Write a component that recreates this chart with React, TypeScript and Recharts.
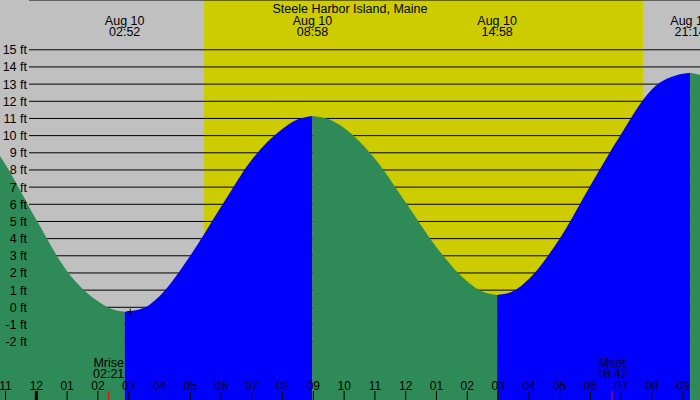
import {
    ComposedChart,
    Area,
    XAxis,
    YAxis,
    CartesianGrid,
    ReferenceLine,
    ReferenceDot,
    Customized,
} from "recharts";

const TITLE = "Steele Harbor Island, Maine";
const DATE_LABEL = "Aug 10";

// hours counted from Aug 10 00:00
const TIDE_HOURS = [-3.4, -3, -2, -1, 0, 1, 2, 2.4, 2.87, 3.5, 4, 5, 6, 7, 8, 8.5, 8.97, 9.5, 10, 11, 12, 13, 14, 14.5, 14.97, 15.5, 16, 17, 18, 19, 20, 21, 21.24, 22, 23];
const TIDE_FEET = [12.3, 12.2, 10.8, 8.3, 5.1, 2.1, 0.35, -0.07, -0.26, -0.03, 0.65, 3.0, 5.85, 8.6, 10.4, 10.95, 11.15, 10.95, 10.45, 8.65, 6.1, 3.5, 1.5, 0.9, 0.72, 0.95, 1.65, 4.0, 7.1, 10.1, 12.7, 13.6, 13.66, 13.2, 11.4];

// high / low turning points, the fill switches colour at each one
const EXTREME_HOURS = [-3.4, 2.87, 8.97, 14.97, 21.24];
const LABELED_EXTREMES = [2.87, 8.97, 14.97, 21.24];
const LABELED_TIMES = ["02:52", "08:58", "14:58", "21:14"];

const SUNRISE = 5.45;
const SUNSET = 19.71;

const MOON_HOURS = [2.35, 18.7];
const MOON_NAMES = ["Mrise", "Mset"];
const MOON_TIMES = ["02:21", "18:42"];

const MARK_HOUR = 3.05;
const MARK_FEET = -0.25;

const HOUR_TICKS = [-1, 0, 1, 2, 3, 4, 5, 6, 7, 8, 9, 10, 11, 12, 13, 14, 15, 16, 17, 18, 19, 20, 21];
const HOUR_LABELS = ["11", "12", "01", "02", "03", "04", "05", "06", "07", "08", "09", "10", "11", "12", "01", "02", "03", "04", "05", "06", "07", "08", "09"];
const FEET_TICKS = [-2, -1, 0, 1, 2, 3, 4, 5, 6, 7, 8, 9, 10, 11, 12, 13, 14, 15];

const X_MIN = -1.18;
const X_MAX = 21.56;
const Y_MIN = -5.4;
const Y_MAX = 17.9;

const W = 700;
const H = 400;
const FONT = "'Liberation Sans', Arial, sans-serif";
const NIGHT = "#c0c0c0";
const DAY = "#cccc00";
const EBB = "#2e8b57";
const FLOOD = "#0000ff";
const GRID_START = 29;

const segKey = (k: number) => `s${k}`;

const data = TIDE_HOURS.map((t, i) => {
    const row: Record<string, number> = { t };
    EXTREME_HOURS.forEach((start, k) => {
        const end = k + 1 < EXTREME_HOURS.length ? EXTREME_HOURS[k + 1] : Infinity;
        if (t >= start && t <= end) row[segKey(k)] = TIDE_FEET[i];
    });
    return row;
});

const GridLine = (props: any) => (
    <line
        key={props.key ?? props.y1}
        x1={props.x1 + GRID_START}
        x2={props.x2}
        y1={props.y1}
        y2={props.y2}
        stroke="#000"
        strokeWidth={1}
    />
);

// no vertical lines, only the day / night stripes between sunrise and sunset
const NoLine = (props: any) => <g key={props.key ?? props.x1} />;

const FeetTick = ({ y, payload }: any) => (
    <text x={27} y={y} dy={4.5} textAnchor="end" fontSize={12.5} fontFamily={FONT} fill="#000">
        {payload.value} ft
    </text>
);

const HourTick = ({ x, payload }: any) => {
    const i = HOUR_TICKS.indexOf(payload.value);
    const midnight = payload.value === 0;
    return (
        <g>
            <line x1={x} x2={x} y1={H - 9} y2={H} stroke="#000" strokeWidth={midnight ? 3 : 1} />
            <text x={x} y={H - 10.5} textAnchor="middle" fontSize={12} fontFamily={FONT} fill="#000">
                {HOUR_LABELS[i]}
            </text>
        </g>
    );
};

const TideLabel = ({ viewBox, time }: any) => (
    <g fontSize={12.5} fontFamily={FONT} fill="#000" textAnchor="middle">
        <text x={viewBox.x} y={24.5}>{DATE_LABEL}</text>
        <text x={viewBox.x} y={36}>{time}</text>
    </g>
);

const MoonLabel = ({ viewBox, name, time }: any) => (
    <g fontSize={12.5} fontFamily={FONT} fill="#000" textAnchor="middle">
        <text x={viewBox.x} y={H - 33.5}>{name}</text>
        <text x={viewBox.x} y={H - 22}>{time}</text>
        <line x1={viewBox.x} x2={viewBox.x} y1={H - 9} y2={H} stroke="#ff0000" strokeWidth={1} />
    </g>
);

const Plus = ({ cx, cy }: any) => (
    <g stroke="#000" strokeWidth={1}>
        <line x1={cx - 3} x2={cx + 3} y1={cy} y2={cy} />
        <line x1={cx} x2={cx} y1={cy - 3} y2={cy + 4} />
    </g>
);

const Title = () => (
    <text x={W / 2} y={12.5} textAnchor="middle" fontSize={12.5} fontFamily={FONT} fill="#000">
        {TITLE}
    </text>
);

export default function App() {
    return (
        <div style={{ position: "absolute", left: 0, top: 0, width: W, height: H, background: NIGHT }}>
            <ComposedChart width={W} height={H} data={data} margin={{ top: 0, right: 0, bottom: 0, left: 0 }}>
                <CartesianGrid
                    horizontal={GridLine}
                    vertical={NoLine}
                    verticalValues={[SUNRISE, SUNSET]}
                    verticalFill={[NIGHT, DAY, NIGHT]}
                    fillOpacity={1}
                />
                {EXTREME_HOURS.map((_, k) => (
                    <Area
                        key={k}
                        dataKey={segKey(k)}
                        type="monotone"
                        baseValue={Y_MIN}
                        stroke="none"
                        fill={k % 2 === 0 ? EBB : FLOOD}
                        fillOpacity={1}
                        dot={false}
                        activeDot={false}
                        isAnimationActive={false}
                    />
                ))}
                <XAxis
                    type="number"
                    dataKey="t"
                    domain={[X_MIN, X_MAX]}
                    allowDataOverflow
                    ticks={HOUR_TICKS}
                    interval={0}
                    mirror
                    height={30}
                    axisLine={false}
                    tickLine={false}
                    tick={<HourTick />}
                />
                <YAxis
                    type="number"
                    domain={[Y_MIN, Y_MAX]}
                    allowDataOverflow
                    ticks={FEET_TICKS}
                    interval={0}
                    mirror
                    width={30}
                    axisLine={false}
                    tickLine={false}
                    tick={<FeetTick />}
                />
                <ReferenceDot x={MARK_HOUR} y={MARK_FEET} shape={<Plus />} />
                {LABELED_EXTREMES.map((t, i) => (
                    <ReferenceLine key={`x${t}`} x={t} stroke="none" label={<TideLabel time={LABELED_TIMES[i]} />} />
                ))}
                {MOON_HOURS.map((t, i) => (
                    <ReferenceLine key={`m${t}`} x={t} stroke="none" label={<MoonLabel name={MOON_NAMES[i]} time={MOON_TIMES[i]} />} />
                ))}
                <Customized component={Title} />
            </ComposedChart>
        </div>
    );
}
